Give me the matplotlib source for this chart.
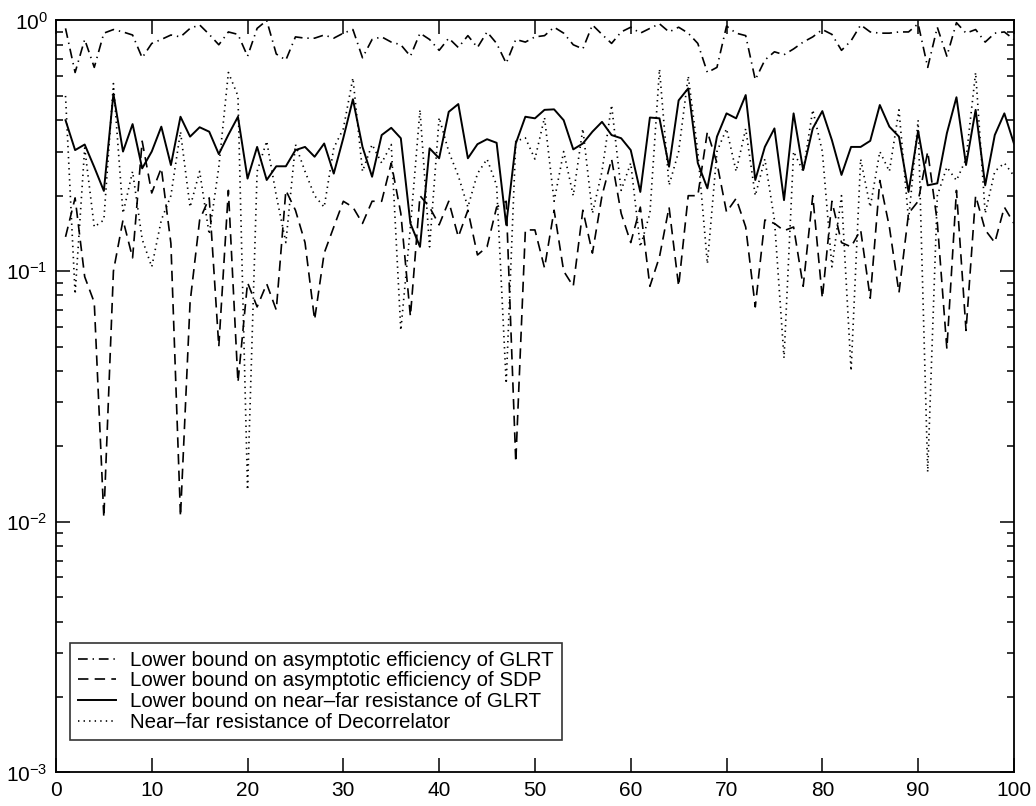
import matplotlib
matplotlib.use("Agg")
import matplotlib.pyplot as plt
import numpy as np

plt.rcParams['font.family'] = ['Liberation Sans', 'DejaVu Sans']
plt.rcParams['mathtext.fontset'] = 'custom'
plt.rcParams['mathtext.rm'] = 'Liberation Sans'
plt.rcParams['lines.scale_dashes'] = False

x = list(range(1, 101))

glrt_eff = [0.93, 0.62, 0.84, 0.65, 0.89, 0.92, 0.90, 0.875, 0.71, 0.81,
            0.84, 0.875, 0.86, 0.93, 0.96, 0.88, 0.80, 0.90, 0.88, 0.72,
            0.93, 1.0, 0.735, 0.695, 0.86, 0.85, 0.85, 0.875, 0.85, 0.89,
            0.92, 0.71, 0.84, 0.86, 0.82, 0.80, 0.72, 0.89, 0.84, 0.76,
            0.85, 0.78, 0.87, 0.78, 0.90, 0.81, 0.675, 0.84, 0.82, 0.86,
            0.87, 0.94, 0.89, 0.80, 0.77, 0.96, 0.88, 0.81, 0.90, 0.94,
            0.89, 0.93, 0.97, 0.90, 0.94, 0.89, 0.81, 0.62, 0.65, 0.95,
            0.89, 0.87, 0.58, 0.695, 0.75, 0.73, 0.77, 0.82, 0.86, 0.92,
            0.88, 0.76, 0.83, 0.96, 0.90, 0.89, 0.89, 0.90, 0.90, 0.97,
            0.65, 0.94, 0.72, 0.98, 0.89, 0.92, 0.82, 0.89, 0.90, 0.84]

sdp_eff = [0.137, 0.196, 0.095, 0.075, 0.0104, 0.10, 0.16, 0.113, 0.33, 0.205,
           0.258, 0.129, 0.0105, 0.075, 0.16, 0.196, 0.05, 0.21, 0.036, 0.09,
           0.072, 0.089, 0.07, 0.21, 0.175, 0.13, 0.064, 0.118, 0.15, 0.19,
           0.18, 0.155, 0.19, 0.19, 0.27, 0.17, 0.066, 0.20, 0.18, 0.153,
           0.19, 0.137, 0.175, 0.116, 0.125, 0.18, 0.19, 0.0173, 0.146, 0.146,
           0.103, 0.175, 0.10, 0.087, 0.175, 0.118, 0.20, 0.28, 0.17, 0.13,
           0.18, 0.087, 0.114, 0.18, 0.087, 0.20, 0.20, 0.36, 0.27, 0.172,
           0.195, 0.15, 0.072, 0.16, 0.155, 0.145, 0.15, 0.087, 0.20, 0.078,
           0.19, 0.13, 0.125, 0.146, 0.078, 0.23, 0.15, 0.082, 0.17, 0.19,
           0.30, 0.157, 0.049, 0.21, 0.058, 0.20, 0.146, 0.13, 0.18, 0.155]

glrt_nfr = [0.40, 0.304, 0.32, 0.26, 0.209, 0.51, 0.30, 0.386, 0.257, 0.30,
            0.377, 0.265, 0.413, 0.344, 0.375, 0.36, 0.293, 0.35, 0.413, 0.234,
            0.313, 0.231, 0.262, 0.262, 0.304, 0.313, 0.286, 0.323, 0.245, 0.34,
            0.485, 0.313, 0.238, 0.349, 0.373, 0.339, 0.155, 0.125, 0.309, 0.282,
            0.432, 0.464, 0.282, 0.321, 0.336, 0.325, 0.153, 0.323, 0.413, 0.407,
            0.44, 0.442, 0.40, 0.306, 0.323, 0.36, 0.394, 0.349, 0.339, 0.304,
            0.207, 0.41, 0.407, 0.261, 0.48, 0.536, 0.27, 0.214, 0.344, 0.426,
            0.407, 0.504, 0.231, 0.313, 0.371, 0.192, 0.426, 0.253, 0.371, 0.435,
            0.333, 0.242, 0.313, 0.313, 0.331, 0.46, 0.377, 0.344, 0.207, 0.363,
            0.22, 0.224, 0.355, 0.494, 0.265, 0.44, 0.22, 0.349, 0.426, 0.323]

decor_nfr = [0.50, 0.081, 0.31, 0.15, 0.16, 0.56, 0.17, 0.25, 0.134, 0.104,
             0.16, 0.20, 0.36, 0.18, 0.25, 0.14, 0.26, 0.62, 0.50, 0.0134,
             0.25, 0.33, 0.20, 0.13, 0.32, 0.25, 0.20, 0.18, 0.31, 0.37,
             0.59, 0.25, 0.32, 0.27, 0.32, 0.058, 0.15, 0.44, 0.125, 0.41,
             0.30, 0.24, 0.18, 0.245, 0.28, 0.22, 0.0356, 0.33, 0.34, 0.28,
             0.41, 0.19, 0.30, 0.20, 0.37, 0.17, 0.25, 0.46, 0.21, 0.27,
             0.125, 0.17, 0.64, 0.22, 0.30, 0.60, 0.30, 0.107, 0.30, 0.37,
             0.25, 0.37, 0.20, 0.28, 0.16, 0.045, 0.30, 0.25, 0.44, 0.30,
             0.104, 0.20, 0.04, 0.28, 0.18, 0.30, 0.25, 0.44, 0.16, 0.40,
             0.0158, 0.20, 0.26, 0.23, 0.28, 0.62, 0.17, 0.25, 0.27, 0.24]

labels = ["Lower bound on asymptotic efficiency of GLRT",
          "Lower bound on asymptotic efficiency of SDP",
          "Lower bound on near\u2013far resistance of GLRT",
          "Near\u2013far resistance of Decorrelator"]

fig = plt.figure(figsize=(10.36, 8.06), dpi=100)
ax = fig.add_axes([0.054, 0.0416, 0.9247, 0.933])

lw = 1.2
ax.plot(x, glrt_eff, color='black', lw=lw, linestyle=(0, (7, 3.5, 1, 3.5)), label=labels[0])
ax.plot(x, sdp_eff, color='black', lw=lw, linestyle=(0, (7.5, 4.5)), label=labels[1])
ax.plot(x, glrt_nfr, color='black', lw=1.4, linestyle='-', label=labels[2])
ax.plot(x, decor_nfr, color='black', lw=lw, linestyle=(0, (1, 3)), label=labels[3])

ax.set_yscale('log')
ax.set_xlim(0, 100)
ax.set_ylim(1e-3, 1e0)
ax.set_xticks(range(0, 101, 10))
ax.tick_params(which='both', direction='in', top=True, right=True, labelsize=15, width=1.1)
ax.tick_params(which='major', length=10, pad=6)
ax.tick_params(which='minor', length=5)
ax.xaxis.set_minor_locator(matplotlib.ticker.NullLocator())
for s in ax.spines.values():
    s.set_linewidth(1.3)

leg = ax.legend(loc='lower left', bbox_to_anchor=(0.0146, 0.0432), borderaxespad=0,
                fontsize=14.8, frameon=True, fancybox=False, edgecolor='black',
                handlelength=1.85, handletextpad=0.68, labelspacing=0.08,
                borderpad=0.4)
leg.get_frame().set_linewidth(1.2)

fig.savefig("out.png", dpi=100, facecolor='white')
